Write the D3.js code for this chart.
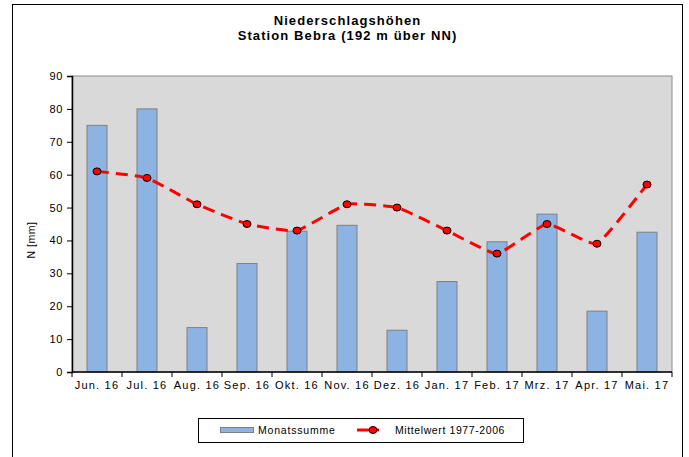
<!DOCTYPE html>
<html>
<head>
<meta charset="utf-8">
<script src="https://cdn.jsdelivr.net/npm/d3@7"></script>
<style>
  body { margin: 0; background: #fff; }
  text { font-family: "Liberation Sans", Arial, sans-serif; fill: #000; }
</style>
</head>
<body>
<div id="chart"></div>
<script>
var months = ["Jun. 16", "Jul. 16", "Aug. 16", "Sep. 16", "Okt. 16", "Nov. 16",
              "Dez. 16", "Jan. 17", "Feb. 17", "Mrz. 17", "Apr. 17", "Mai. 17"];
var monatssumme = [75, 80, 13.5, 33, 42.8, 44.6, 12.7, 27.5, 39.6, 48, 18.5, 42.5];
var mittelwert = [61, 59, 51, 45, 43, 51, 50, 43, 36, 45, 39, 57];
var yTicks = [0, 10, 20, 30, 40, 50, 60, 70, 80, 90];

var W = 689, H = 457;
var margin = { top: 76, right: 17, bottom: 85, left: 72 };
var width = W - margin.left - margin.right;
var height = H - margin.top - margin.bottom;

var svg = d3.select('#chart').append('svg')
    .attr('width', W)
    .attr('height', H);

// outer frame
svg.append('rect')
    .attr('x', 12.5).attr('y', 4.5)
    .attr('width', 670).attr('height', 460)
    .attr('fill', 'none')
    .attr('stroke', '#000')
    .attr('stroke-width', 1);

// title
var title = svg.append('text')
    .attr('x', 347.5).attr('y', 25)
    .attr('text-anchor', 'middle')
    .style('font-weight', 'bold')
    .style('font-size', '13px')
    .style('letter-spacing', '1.1px');
title.append('tspan').attr('x', 347.5).text('Niederschlagshöhen');
title.append('tspan').attr('x', 347.5).attr('dy', 15).text('Station Bebra (192 m über NN)');

var g = svg.append('g')
    .attr('transform', 'translate(' + margin.left + ',' + margin.top + ')');

var xScale = d3.scaleBand().domain(months).range([0, width]).paddingInner(0.6).paddingOuter(0.3);
var yScale = d3.scaleLinear().domain([0, 90]).range([height, 0]);

// plot area
g.append('rect')
    .attr('width', width)
    .attr('height', height)
    .attr('fill', '#d9d9d9')
    .attr('stroke', '#8c8c8c')
    .attr('stroke-width', 1);

// bars
g.append('g').selectAll('rect')
    .data(monatssumme)
    .enter().append('rect')
    .attr('x', function (d, i) { return xScale(months[i]); })
    .attr('y', function (d) { return yScale(d); })
    .attr('width', xScale.bandwidth())
    .attr('height', function (d) { return height - yScale(d); })
    .attr('fill', '#8db3e2')
    .attr('stroke', '#808080')
    .attr('stroke-width', 1);

// mean line (Excel-style light smoothing)
var cx = function (d, i) { return xScale(months[i]) + xScale.bandwidth() / 2; };
var line = d3.line()
    .x(cx)
    .y(function (d) { return yScale(d); })
    .curve(d3.curveCardinal.tension(0.6));

g.append('path')
    .datum(mittelwert)
    .attr('d', line)
    .attr('fill', 'none')
    .attr('stroke', '#ff0000')
    .attr('stroke-width', 3)
    .attr('stroke-dasharray', '12,7');

g.append('g').selectAll('ellipse')
    .data(mittelwert)
    .enter().append('ellipse')
    .attr('cx', cx)
    .attr('cy', function (d) { return yScale(d); })
    .attr('rx', 4).attr('ry', 3.5)
    .attr('fill', '#ff0000')
    .attr('stroke', '#000')
    .attr('stroke-width', 1);

// y axis
var yAxis = d3.axisLeft(yScale).tickValues(yTicks).tickSize(5).tickPadding(4);
var ya = g.append('g').call(yAxis);
ya.select('.domain').attr('stroke', '#000').attr('stroke-width', 1.5);
ya.selectAll('.tick line').attr('stroke', '#000');
ya.selectAll('text').style('font-size', '11px').style('letter-spacing', '0.6px');

// x axis with ticks between categories
var xa = g.append('g').attr('transform', 'translate(0,' + height + ')');
xa.append('line')
    .attr('x1', 0).attr('x2', width)
    .attr('stroke', '#000').attr('stroke-width', 1.5);
var step = width / months.length;
xa.selectAll('.sep')
    .data(d3.range(months.length + 1))
    .enter().append('line')
    .attr('x1', function (d) { return d * step; })
    .attr('x2', function (d) { return d * step; })
    .attr('y1', 0).attr('y2', 5)
    .attr('stroke', '#000');
xa.selectAll('.lbl')
    .data(months)
    .enter().append('text')
    .attr('x', function (d) { return xScale(d) + xScale.bandwidth() / 2; })
    .attr('y', 17)
    .attr('text-anchor', 'middle')
    .style('font-size', '11px')
    .style('letter-spacing', '1.2px')
    .text(function (d) { return d; });

// y label
svg.append('text')
    .attr('transform', 'translate(35,240) rotate(-90)')
    .attr('text-anchor', 'middle')
    .style('font-size', '10.5px')
    .style('letter-spacing', '0.5px')
    .text('N [mm]');

// legend
var leg = svg.append('g');
leg.append('rect')
    .attr('x', 198.5).attr('y', 418.5)
    .attr('width', 325).attr('height', 24)
    .attr('fill', '#fff').attr('stroke', '#000');
leg.append('rect')
    .attr('x', 220.5).attr('y', 427.5)
    .attr('width', 33).attr('height', 5)
    .attr('fill', '#8db3e2').attr('stroke', '#808080');
leg.append('text')
    .attr('x', 258).attr('y', 434)
    .style('font-size', '10.5px')
    .style('letter-spacing', '0.8px')
    .text('Monatssumme');
leg.append('line')
    .attr('x1', 357).attr('x2', 379).attr('y1', 430).attr('y2', 430)
    .attr('stroke', '#ff0000').attr('stroke-width', 3);
leg.append('ellipse')
    .attr('cx', 373).attr('cy', 430).attr('rx', 4).attr('ry', 3.5)
    .attr('fill', '#ff0000').attr('stroke', '#000');
leg.append('text')
    .attr('x', 395).attr('y', 434)
    .style('font-size', '10.5px')
    .style('letter-spacing', '0.6px')
    .text('Mittelwert 1977-2006');
</script>
</body>
</html>
